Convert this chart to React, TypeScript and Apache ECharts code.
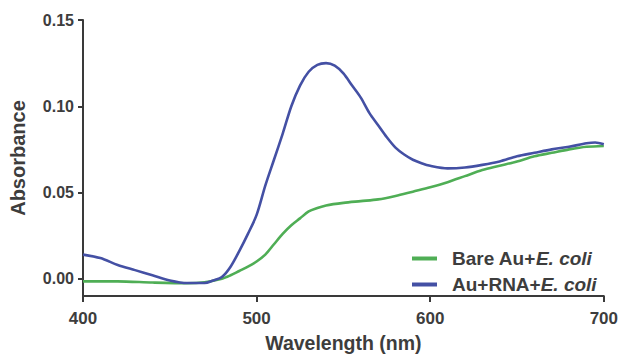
import React, { useEffect, useRef } from "react";
import * as echarts from "echarts";

const wavelengthsRNA = [400, 410, 420, 430, 440, 450, 460, 470, 475, 480, 485, 490, 495, 500, 505, 510, 515, 520, 525, 530, 535, 540, 545, 550, 555, 560, 565, 570, 575, 580, 585, 590, 595, 600, 610, 620, 630, 640, 650, 660, 670, 680, 690, 695, 700];
const absorbanceRNA = [0.014, 0.012, 0.008, 0.005, 0.002, -0.001, -0.0025, -0.0025, -0.001, 0.001, 0.007, 0.016, 0.026, 0.037, 0.054, 0.069, 0.084, 0.1, 0.112, 0.12, 0.124, 0.125, 0.1235, 0.119, 0.112, 0.105, 0.096, 0.089, 0.082, 0.076, 0.072, 0.069, 0.067, 0.0655, 0.064, 0.0645, 0.066, 0.068, 0.071, 0.073, 0.075, 0.0765, 0.0785, 0.079, 0.078];

const wavelengthsBare = [400, 420, 440, 460, 470, 480, 485, 490, 495, 500, 505, 510, 515, 520, 525, 530, 535, 540, 550, 560, 570, 580, 590, 600, 610, 620, 630, 640, 650, 660, 670, 680, 690, 700];
const absorbanceBare = [-0.0015, -0.0015, -0.0022, -0.0026, -0.002, 0.0, 0.002, 0.0045, 0.007, 0.01, 0.014, 0.02, 0.026, 0.031, 0.035, 0.039, 0.041, 0.0425, 0.044, 0.045, 0.046, 0.048, 0.0505, 0.053, 0.056, 0.0595, 0.063, 0.0655, 0.068, 0.071, 0.073, 0.075, 0.0765, 0.077];

const yTickValues = [0, 0.05, 0.1, 0.15];
const seriesNames = ["Bare Au+E. coli", "Au+RNA+E. coli"];

const TEXT = "#3d3d3d";
const AXIS = "#3a3a3a";
const FONT = "'Liberation Sans', Arial, sans-serif";

export default function App() {
  const ref = useRef<HTMLDivElement>(null);
  useEffect(() => {
    if (!ref.current) return;
    const chart = echarts.init(ref.current, undefined, { renderer: "svg" });
    const bare = wavelengthsBare.map((x, i) => [x, absorbanceBare[i]]);
    const rna = wavelengthsRNA.map((x, i) => [x, absorbanceRNA[i]]);
    const legendFont = 19;
    chart.setOption({
      animation: false,
      backgroundColor: "#ffffff",
      textStyle: { fontFamily: FONT },
      grid: { left: 83, right: 16, top: 20, bottom: 58 },
      legend: {
        orient: "vertical",
        left: 407,
        top: 244,
        itemWidth: 25,
        itemHeight: 4,
        itemGap: 7,
        icon: "rect",
        data: seriesNames,
        textStyle: {
          fontFamily: FONT,
          fontSize: legendFont,
          fontWeight: "bold",
          color: TEXT,
          rich: {
            s: { width: 10 },
            n: { fontFamily: FONT, fontSize: legendFont, fontWeight: "bold", color: TEXT },
            i: { fontFamily: FONT, fontSize: legendFont, fontWeight: "bold", fontStyle: "italic", color: TEXT },
          },
        },
        formatter: (name: string) => {
          const idx = name.indexOf("E. coli");
          return "{s|}{n|" + name.slice(0, idx) + "}{i|E. coli}";
        },
      },
      xAxis: {
        type: "value",
        min: 400,
        max: 700,
        interval: 100,
        name: "Wavelength (nm)",
        nameLocation: "middle",
        nameGap: 37,
        nameTextStyle: { fontFamily: FONT, fontSize: 19.5, fontWeight: "bold", color: TEXT },
        axisLine: { show: true, onZero: false, lineStyle: { color: AXIS, width: 2 } },
        axisTick: { show: true, length: 6, lineStyle: { color: AXIS, width: 2 } },
        axisLabel: { margin: 14, fontFamily: FONT, fontSize: 17, fontWeight: "bold", color: TEXT },
        splitLine: { show: false },
      },
      yAxis: {
        type: "value",
        min: -0.01,
        max: 0.15,
        name: "Absorbance",
        nameLocation: "middle",
        nameGap: 55,
        nameTextStyle: { fontFamily: FONT, fontSize: 20, fontWeight: "bold", color: TEXT },
        axisLine: { show: true, onZero: false, lineStyle: { color: AXIS, width: 2 } },
        axisTick: { show: true, length: 5, customValues: yTickValues, lineStyle: { color: AXIS, width: 2 } },
        axisLabel: {
          margin: 9,
          customValues: yTickValues,
          fontFamily: FONT,
          fontSize: 16,
          fontWeight: "bold",
          color: TEXT,
          formatter: (v: number) => v.toFixed(2),
        },
        splitLine: { show: false },
      },
      series: [
        {
          name: seriesNames[0],
          type: "line",
          data: bare,
          showSymbol: false,
          smooth: 0.3,
          color: "#4fae55",
          lineStyle: { color: "#4fae55", width: 2.6 },
          z: 2,
        },
        {
          name: seriesNames[1],
          type: "line",
          data: rna,
          showSymbol: false,
          smooth: 0.3,
          color: "#4450a4",
          lineStyle: { color: "#4450a4", width: 2.6 },
          z: 3,
        },
      ],
    });
    return () => chart.dispose();
  }, []);
  return (
    <div
      ref={ref}
      style={{ position: "fixed", left: 0, top: 0, width: 621, height: 358, background: "#fff" }}
    />
  );
}
